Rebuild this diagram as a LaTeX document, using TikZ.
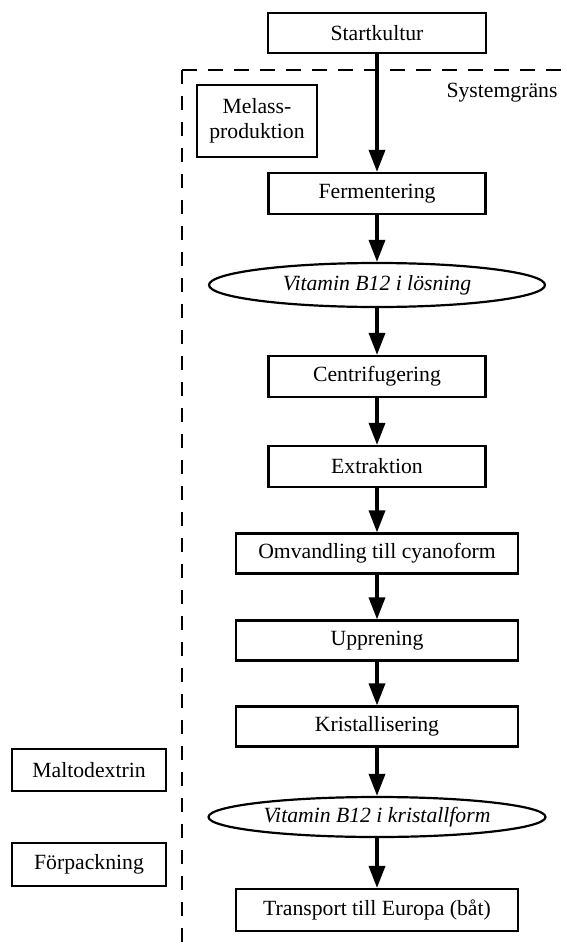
\documentclass[tikz,border=0pt]{standalone}
\usepackage{fontspec}
\setmainfont{Liberation Serif}
\usetikzlibrary{arrows.meta,shapes.geometric}
\begin{document}
\begin{tikzpicture}[x=1pt,y=-1pt,
  txt/.style={font=\fontsize{21.7}{25}\selectfont},
  stepbox/.style={txt,draw,line width=2.2pt,inner sep=0pt,minimum height=41pt,minimum width=217pt},
  widebox/.style={stepbox,minimum width=282pt,minimum height=40pt},
  sidebox/.style={stepbox,minimum width=154pt,minimum height=42pt},
  product/.style={txt,font=\fontsize{21.7}{25}\selectfont\itshape,draw,ellipse,line width=2.2pt,inner sep=0pt,minimum width=336pt,minimum height=44pt},
  flow/.style={line width=3.5pt,-{Triangle[length=22pt,width=16pt]}},
  border/.style={line width=2.6pt,dash pattern=on 15pt off 11pt}]
\useasboundingbox (0,0) rectangle (569,942);

% system boundary
\coordinate (bb) at (182,960);
\coordinate (bc) at (182,70);
\coordinate (br) at (590,70);
\draw[border] (bc) -- (br);
\draw[border,dash pattern=on 14pt off 12pt] (bc) -- (bb);
\node[txt] (sys) at (502,93) {Systemgräns};

% process chain
\node[stepbox,minimum width=218pt,minimum height=40pt] (start) at (377,33) {Startkultur};
\node[stepbox,minimum width=120pt,minimum height=72pt,align=center] (melass) at (257,121) {Melass-\\produktion};
\node[stepbox] (ferm) at (377,193.5) {Fermentering};
\node[product] (los) at (377,285) {Vitamin B12 i lösning};
\node[stepbox] (centr) at (377,376.5) {Centrifugering};
\node[stepbox] (extr) at (377,466.5) {Extraktion};
\node[widebox] (omv) at (377,553.5) {Omvandling till cyanoform};
\node[widebox] (uppr) at (377,640.5) {Upprening};
\node[widebox] (krist) at (377,726.5) {Kristallisering};
\node[product,minimum width=337pt,minimum height=40pt] (kform) at (377,817) {Vitamin B12 i kristallform};
\node[widebox,minimum height=42pt] (transp) at (377,910) {Transport till Europa (båt)};

% external inputs
\node[sidebox] (malto) at (89,770) {Maltodextrin};
\node[sidebox,minimum height=43pt] (forp) at (89,864.5) {Förpackning};

% connectors
\draw[flow] (start) -- (ferm);
\draw[flow] (ferm) -- (los);
\draw[flow] (los) -- (centr);
\draw[flow] (centr) -- (extr);
\draw[flow] (extr) -- (omv);
\draw[flow] (omv) -- (uppr);
\draw[flow] (uppr) -- (krist);
\draw[flow] (krist) -- (kform);
\draw[flow] (kform) -- (transp);
\end{tikzpicture}
\end{document}
